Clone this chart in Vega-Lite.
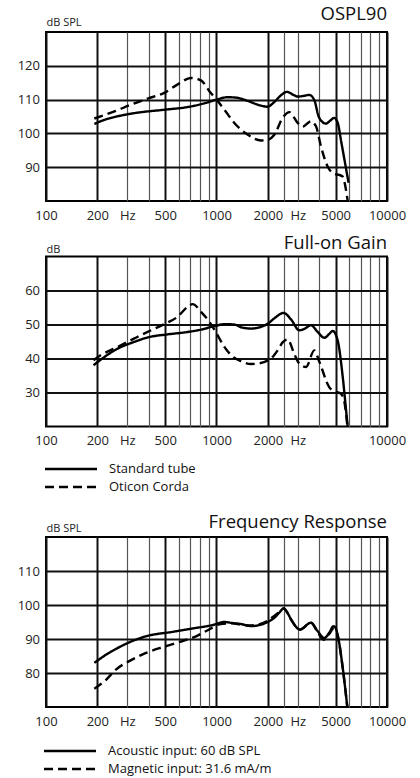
{
  "$schema": "https://vega.github.io/schema/vega-lite/v6.json",
  "background": "white",
  "padding": {"left": 16, "top": 4, "right": 5, "bottom": 5},
  "datasets": {
    "curves": [
      {"p": "ospl", "s": "Standard tube", "f": 192, "v": 102.8},
      {"p": "ospl", "s": "Standard tube", "f": 220, "v": 104.0},
      {"p": "ospl", "s": "Standard tube", "f": 260, "v": 105.0},
      {"p": "ospl", "s": "Standard tube", "f": 330, "v": 106.0},
      {"p": "ospl", "s": "Standard tube", "f": 494, "v": 107.0},
      {"p": "ospl", "s": "Standard tube", "f": 677, "v": 107.8},
      {"p": "ospl", "s": "Standard tube", "f": 850, "v": 108.9},
      {"p": "ospl", "s": "Standard tube", "f": 1000, "v": 110.0},
      {"p": "ospl", "s": "Standard tube", "f": 1163, "v": 110.7},
      {"p": "ospl", "s": "Standard tube", "f": 1300, "v": 110.6},
      {"p": "ospl", "s": "Standard tube", "f": 1527, "v": 109.6},
      {"p": "ospl", "s": "Standard tube", "f": 1800, "v": 108.3},
      {"p": "ospl", "s": "Standard tube", "f": 1990, "v": 107.9},
      {"p": "ospl", "s": "Standard tube", "f": 2184, "v": 109.3},
      {"p": "ospl", "s": "Standard tube", "f": 2380, "v": 111.2},
      {"p": "ospl", "s": "Standard tube", "f": 2590, "v": 112.3},
      {"p": "ospl", "s": "Standard tube", "f": 2800, "v": 111.5},
      {"p": "ospl", "s": "Standard tube", "f": 3000, "v": 110.9},
      {"p": "ospl", "s": "Standard tube", "f": 3250, "v": 111.1},
      {"p": "ospl", "s": "Standard tube", "f": 3500, "v": 111.4},
      {"p": "ospl", "s": "Standard tube", "f": 3750, "v": 109.8},
      {"p": "ospl", "s": "Standard tube", "f": 3960, "v": 105.2},
      {"p": "ospl", "s": "Standard tube", "f": 4200, "v": 103.3},
      {"p": "ospl", "s": "Standard tube", "f": 4386, "v": 102.9},
      {"p": "ospl", "s": "Standard tube", "f": 4650, "v": 103.8},
      {"p": "ospl", "s": "Standard tube", "f": 4900, "v": 104.6},
      {"p": "ospl", "s": "Standard tube", "f": 5140, "v": 103.1},
      {"p": "ospl", "s": "Standard tube", "f": 5400, "v": 97.3},
      {"p": "ospl", "s": "Standard tube", "f": 5700, "v": 90.7},
      {"p": "ospl", "s": "Standard tube", "f": 5950, "v": 85.4},

      {"p": "ospl", "s": "Oticon Corda", "f": 192, "v": 104.4},
      {"p": "ospl", "s": "Oticon Corda", "f": 252, "v": 106.5},
      {"p": "ospl", "s": "Oticon Corda", "f": 315, "v": 108.5},
      {"p": "ospl", "s": "Oticon Corda", "f": 395, "v": 110.3},
      {"p": "ospl", "s": "Oticon Corda", "f": 494, "v": 112.0},
      {"p": "ospl", "s": "Oticon Corda", "f": 592, "v": 114.5},
      {"p": "ospl", "s": "Oticon Corda", "f": 708, "v": 116.4},
      {"p": "ospl", "s": "Oticon Corda", "f": 811, "v": 115.7},
      {"p": "ospl", "s": "Oticon Corda", "f": 908, "v": 112.5},
      {"p": "ospl", "s": "Oticon Corda", "f": 1000, "v": 110.0},
      {"p": "ospl", "s": "Oticon Corda", "f": 1112, "v": 107.0},
      {"p": "ospl", "s": "Oticon Corda", "f": 1272, "v": 103.1},
      {"p": "ospl", "s": "Oticon Corda", "f": 1527, "v": 99.6},
      {"p": "ospl", "s": "Oticon Corda", "f": 1824, "v": 97.9},
      {"p": "ospl", "s": "Oticon Corda", "f": 1995, "v": 98.1},
      {"p": "ospl", "s": "Oticon Corda", "f": 2184, "v": 99.6},
      {"p": "ospl", "s": "Oticon Corda", "f": 2443, "v": 104.6},
      {"p": "ospl", "s": "Oticon Corda", "f": 2675, "v": 106.3},
      {"p": "ospl", "s": "Oticon Corda", "f": 2993, "v": 103.1},
      {"p": "ospl", "s": "Oticon Corda", "f": 3200, "v": 102.0},
      {"p": "ospl", "s": "Oticon Corda", "f": 3582, "v": 103.6},
      {"p": "ospl", "s": "Oticon Corda", "f": 3834, "v": 102.1},
      {"p": "ospl", "s": "Oticon Corda", "f": 4102, "v": 96.1},
      {"p": "ospl", "s": "Oticon Corda", "f": 4487, "v": 90.2},
      {"p": "ospl", "s": "Oticon Corda", "f": 4912, "v": 88.0},
      {"p": "ospl", "s": "Oticon Corda", "f": 5252, "v": 87.7},
      {"p": "ospl", "s": "Oticon Corda", "f": 5500, "v": 87.2},
      {"p": "ospl", "s": "Oticon Corda", "f": 5700, "v": 84.3},
      {"p": "ospl", "s": "Oticon Corda", "f": 5880, "v": 80.0},

      {"p": "gain", "s": "Standard tube", "f": 190, "v": 38.0},
      {"p": "gain", "s": "Standard tube", "f": 210, "v": 39.7},
      {"p": "gain", "s": "Standard tube", "f": 263, "v": 42.9},
      {"p": "gain", "s": "Standard tube", "f": 330, "v": 44.9},
      {"p": "gain", "s": "Standard tube", "f": 395, "v": 46.2},
      {"p": "gain", "s": "Standard tube", "f": 517, "v": 47.1},
      {"p": "gain", "s": "Standard tube", "f": 677, "v": 47.8},
      {"p": "gain", "s": "Standard tube", "f": 811, "v": 48.5},
      {"p": "gain", "s": "Standard tube", "f": 971, "v": 49.5},
      {"p": "gain", "s": "Standard tube", "f": 1112, "v": 50.1},
      {"p": "gain", "s": "Standard tube", "f": 1272, "v": 50.0},
      {"p": "gain", "s": "Standard tube", "f": 1392, "v": 49.2},
      {"p": "gain", "s": "Standard tube", "f": 1594, "v": 48.8},
      {"p": "gain", "s": "Standard tube", "f": 1995, "v": 50.2},
      {"p": "gain", "s": "Standard tube", "f": 2180, "v": 51.8},
      {"p": "gain", "s": "Standard tube", "f": 2478, "v": 53.4},
      {"p": "gain", "s": "Standard tube", "f": 2735, "v": 51.5},
      {"p": "gain", "s": "Standard tube", "f": 3060, "v": 48.3},
      {"p": "gain", "s": "Standard tube", "f": 3300, "v": 48.8},
      {"p": "gain", "s": "Standard tube", "f": 3583, "v": 49.8},
      {"p": "gain", "s": "Standard tube", "f": 3920, "v": 47.8},
      {"p": "gain", "s": "Standard tube", "f": 4290, "v": 46.1},
      {"p": "gain", "s": "Standard tube", "f": 4580, "v": 47.2},
      {"p": "gain", "s": "Standard tube", "f": 4801, "v": 48.1},
      {"p": "gain", "s": "Standard tube", "f": 5132, "v": 45.4},
      {"p": "gain", "s": "Standard tube", "f": 5500, "v": 34.6},
      {"p": "gain", "s": "Standard tube", "f": 5748, "v": 25.0},
      {"p": "gain", "s": "Standard tube", "f": 5880, "v": 20.0},

      {"p": "gain", "s": "Oticon Corda", "f": 190, "v": 39.5},
      {"p": "gain", "s": "Oticon Corda", "f": 210, "v": 41.0},
      {"p": "gain", "s": "Oticon Corda", "f": 263, "v": 43.4},
      {"p": "gain", "s": "Oticon Corda", "f": 330, "v": 45.9},
      {"p": "gain", "s": "Oticon Corda", "f": 413, "v": 48.3},
      {"p": "gain", "s": "Oticon Corda", "f": 494, "v": 50.1},
      {"p": "gain", "s": "Oticon Corda", "f": 592, "v": 52.3},
      {"p": "gain", "s": "Oticon Corda", "f": 677, "v": 55.2},
      {"p": "gain", "s": "Oticon Corda", "f": 725, "v": 56.0},
      {"p": "gain", "s": "Oticon Corda", "f": 811, "v": 53.7},
      {"p": "gain", "s": "Oticon Corda", "f": 908, "v": 50.8},
      {"p": "gain", "s": "Oticon Corda", "f": 1000, "v": 47.4},
      {"p": "gain", "s": "Oticon Corda", "f": 1112, "v": 43.4},
      {"p": "gain", "s": "Oticon Corda", "f": 1272, "v": 40.2},
      {"p": "gain", "s": "Oticon Corda", "f": 1392, "v": 39.2},
      {"p": "gain", "s": "Oticon Corda", "f": 1594, "v": 38.4},
      {"p": "gain", "s": "Oticon Corda", "f": 1738, "v": 38.5},
      {"p": "gain", "s": "Oticon Corda", "f": 2085, "v": 40.0},
      {"p": "gain", "s": "Oticon Corda", "f": 2284, "v": 42.4},
      {"p": "gain", "s": "Oticon Corda", "f": 2450, "v": 44.8},
      {"p": "gain", "s": "Oticon Corda", "f": 2617, "v": 45.6},
      {"p": "gain", "s": "Oticon Corda", "f": 2850, "v": 41.5},
      {"p": "gain", "s": "Oticon Corda", "f": 3060, "v": 38.5},
      {"p": "gain", "s": "Oticon Corda", "f": 3350, "v": 37.5},
      {"p": "gain", "s": "Oticon Corda", "f": 3747, "v": 42.4},
      {"p": "gain", "s": "Oticon Corda", "f": 4013, "v": 39.0},
      {"p": "gain", "s": "Oticon Corda", "f": 4580, "v": 31.6},
      {"p": "gain", "s": "Oticon Corda", "f": 5000, "v": 30.2},
      {"p": "gain", "s": "Oticon Corda", "f": 5350, "v": 29.7},
      {"p": "gain", "s": "Oticon Corda", "f": 5600, "v": 27.7},
      {"p": "gain", "s": "Oticon Corda", "f": 5860, "v": 20.0},

      {"p": "resp", "s": "Acoustic input: 60 dB SPL", "f": 192, "v": 83.0},
      {"p": "resp", "s": "Acoustic input: 60 dB SPL", "f": 205, "v": 84.0},
      {"p": "resp", "s": "Acoustic input: 60 dB SPL", "f": 225, "v": 85.4},
      {"p": "resp", "s": "Acoustic input: 60 dB SPL", "f": 260, "v": 87.2},
      {"p": "resp", "s": "Acoustic input: 60 dB SPL", "f": 295, "v": 88.6},
      {"p": "resp", "s": "Acoustic input: 60 dB SPL", "f": 386, "v": 90.8},
      {"p": "resp", "s": "Acoustic input: 60 dB SPL", "f": 553, "v": 92.1},
      {"p": "resp", "s": "Acoustic input: 60 dB SPL", "f": 724, "v": 93.1},
      {"p": "resp", "s": "Acoustic input: 60 dB SPL", "f": 948, "v": 94.1},
      {"p": "resp", "s": "Acoustic input: 60 dB SPL", "f": 1110, "v": 95.0},
      {"p": "resp", "s": "Acoustic input: 60 dB SPL", "f": 1240, "v": 94.7},
      {"p": "resp", "s": "Acoustic input: 60 dB SPL", "f": 1392, "v": 94.4},
      {"p": "resp", "s": "Acoustic input: 60 dB SPL", "f": 1594, "v": 93.8},
      {"p": "resp", "s": "Acoustic input: 60 dB SPL", "f": 1995, "v": 95.0},
      {"p": "resp", "s": "Acoustic input: 60 dB SPL", "f": 2180, "v": 96.2},
      {"p": "resp", "s": "Acoustic input: 60 dB SPL", "f": 2340, "v": 97.8},
      {"p": "resp", "s": "Acoustic input: 60 dB SPL", "f": 2478, "v": 99.0},
      {"p": "resp", "s": "Acoustic input: 60 dB SPL", "f": 2600, "v": 97.8},
      {"p": "resp", "s": "Acoustic input: 60 dB SPL", "f": 2735, "v": 95.8},
      {"p": "resp", "s": "Acoustic input: 60 dB SPL", "f": 3089, "v": 92.8},
      {"p": "resp", "s": "Acoustic input: 60 dB SPL", "f": 3582, "v": 94.8},
      {"p": "resp", "s": "Acoustic input: 60 dB SPL", "f": 3920, "v": 92.3},
      {"p": "resp", "s": "Acoustic input: 60 dB SPL", "f": 4288, "v": 90.3},
      {"p": "resp", "s": "Acoustic input: 60 dB SPL", "f": 4580, "v": 91.8},
      {"p": "resp", "s": "Acoustic input: 60 dB SPL", "f": 4853, "v": 93.8},
      {"p": "resp", "s": "Acoustic input: 60 dB SPL", "f": 5000, "v": 93.2},
      {"p": "resp", "s": "Acoustic input: 60 dB SPL", "f": 5132, "v": 91.3},
      {"p": "resp", "s": "Acoustic input: 60 dB SPL", "f": 5500, "v": 81.5},
      {"p": "resp", "s": "Acoustic input: 60 dB SPL", "f": 5850, "v": 70.0},

      {"p": "resp", "s": "Magnetic input: 31.6 mA/m", "f": 192, "v": 75.4},
      {"p": "resp", "s": "Magnetic input: 31.6 mA/m", "f": 225, "v": 78.0},
      {"p": "resp", "s": "Magnetic input: 31.6 mA/m", "f": 257, "v": 81.0},
      {"p": "resp", "s": "Magnetic input: 31.6 mA/m", "f": 308, "v": 83.5},
      {"p": "resp", "s": "Magnetic input: 31.6 mA/m", "f": 386, "v": 85.9},
      {"p": "resp", "s": "Magnetic input: 31.6 mA/m", "f": 483, "v": 87.6},
      {"p": "resp", "s": "Magnetic input: 31.6 mA/m", "f": 605, "v": 89.1},
      {"p": "resp", "s": "Magnetic input: 31.6 mA/m", "f": 758, "v": 90.8},
      {"p": "resp", "s": "Magnetic input: 31.6 mA/m", "f": 905, "v": 92.8},
      {"p": "resp", "s": "Magnetic input: 31.6 mA/m", "f": 1039, "v": 94.3},
      {"p": "resp", "s": "Magnetic input: 31.6 mA/m", "f": 1240, "v": 94.6},
      {"p": "resp", "s": "Magnetic input: 31.6 mA/m", "f": 1392, "v": 94.2},
      {"p": "resp", "s": "Magnetic input: 31.6 mA/m", "f": 1594, "v": 94.0},
      {"p": "resp", "s": "Magnetic input: 31.6 mA/m", "f": 1995, "v": 95.4},
      {"p": "resp", "s": "Magnetic input: 31.6 mA/m", "f": 2180, "v": 96.8},
      {"p": "resp", "s": "Magnetic input: 31.6 mA/m", "f": 2340, "v": 98.0},
      {"p": "resp", "s": "Magnetic input: 31.6 mA/m", "f": 2478, "v": 99.0},
      {"p": "resp", "s": "Magnetic input: 31.6 mA/m", "f": 2600, "v": 97.8},
      {"p": "resp", "s": "Magnetic input: 31.6 mA/m", "f": 2735, "v": 95.8},
      {"p": "resp", "s": "Magnetic input: 31.6 mA/m", "f": 3089, "v": 92.8},
      {"p": "resp", "s": "Magnetic input: 31.6 mA/m", "f": 3582, "v": 94.8},
      {"p": "resp", "s": "Magnetic input: 31.6 mA/m", "f": 3920, "v": 92.0},
      {"p": "resp", "s": "Magnetic input: 31.6 mA/m", "f": 4250, "v": 89.8},
      {"p": "resp", "s": "Magnetic input: 31.6 mA/m", "f": 4580, "v": 91.5},
      {"p": "resp", "s": "Magnetic input: 31.6 mA/m", "f": 4853, "v": 93.0},
      {"p": "resp", "s": "Magnetic input: 31.6 mA/m", "f": 5000, "v": 92.5},
      {"p": "resp", "s": "Magnetic input: 31.6 mA/m", "f": 5132, "v": 91.0},
      {"p": "resp", "s": "Magnetic input: 31.6 mA/m", "f": 5500, "v": 81.5},
      {"p": "resp", "s": "Magnetic input: 31.6 mA/m", "f": 5850, "v": 70.0}
    ]
  },
  "vconcat": [
    {
      "width": 341,
      "height": 169,
      "title": {"text": "OSPL90", "anchor": "end", "frame": "group", "offset": -7.5},
      "data": {"name": "curves"},
      "transform": [{"filter": "datum.p == 'ospl'"}],
      "mark": {"type": "line", "interpolate": "monotone", "strokeWidth": 2.4, "color": "black", "clip": true},
      "encoding": {
        "x": {
          "field": "f", "type": "quantitative",
          "scale": {"type": "log", "domain": [100, 10000], "nice": false},
          "axis": {
            "title": null,
            "values": [100, 200, 300, 400, 500, 600, 700, 800, 900, 1000, 2000, 2500, 3000, 4000, 5000, 6000, 7000, 8000, 9000, 10000],
            "labelExpr": "datum.value == 300 || datum.value == 3000 ? 'Hz' : indexof([100, 200, 500, 1000, 2000, 5000, 10000], datum.value) >= 0 ? '' + datum.value : ''"
          }
        },
        "y": {
          "field": "v", "type": "quantitative",
          "scale": {"domain": [80, 130], "nice": false, "zero": false},
          "axis": {"values": [90, 100, 110, 120], "title": "dB SPL", "titleY": -6.7}
        },
        "strokeDash": {
          "field": "s", "type": "nominal",
          "scale": {"domain": ["Standard tube", "Oticon Corda"], "range": [[1, 0], [9, 5]]},
          "legend": null
        }
      }
    },
    {
      "width": 341,
      "height": 170,
      "title": {"text": "Full-on Gain", "anchor": "end", "frame": "group", "offset": -9},
      "data": {"name": "curves"},
      "transform": [{"filter": "datum.p == 'gain'"}],
      "mark": {"type": "line", "interpolate": "monotone", "strokeWidth": 2.4, "color": "black", "clip": true},
      "encoding": {
        "x": {
          "field": "f", "type": "quantitative",
          "scale": {"type": "log", "domain": [100, 10000], "nice": false},
          "axis": {
            "title": null,
            "values": [100, 200, 300, 400, 500, 600, 700, 800, 900, 1000, 2000, 2500, 3000, 4000, 5000, 6000, 7000, 8000, 9000, 10000],
            "labelExpr": "datum.value == 300 || datum.value == 3000 ? 'Hz' : indexof([100, 200, 500, 1000, 2000, 10000], datum.value) >= 0 ? '' + datum.value : ''"
          }
        },
        "y": {
          "field": "v", "type": "quantitative",
          "scale": {"domain": [20, 70], "nice": false, "zero": false},
          "axis": {"values": [30, 40, 50, 60], "title": "dB", "titleY": -4.3}
        },
        "strokeDash": {
          "field": "s", "type": "nominal",
          "scale": {"domain": ["Standard tube", "Oticon Corda"], "range": [[1, 0], [9, 5]]},
          "legend": {"orient": "none", "legendX": -6.5, "legendY": 200.5, "padding": 5.5}
        }
      }
    },
    {
      "width": 341,
      "height": 170,
      "title": {"text": "Frequency Response", "anchor": "end", "frame": "group", "offset": -9},
      "data": {"name": "curves"},
      "transform": [{"filter": "datum.p == 'resp'"}],
      "mark": {"type": "line", "interpolate": "monotone", "strokeWidth": 2.4, "color": "black", "clip": true},
      "encoding": {
        "x": {
          "field": "f", "type": "quantitative",
          "scale": {"type": "log", "domain": [100, 10000], "nice": false},
          "axis": {
            "title": null,
            "values": [100, 200, 300, 400, 500, 600, 700, 800, 900, 1000, 2000, 2500, 3000, 4000, 5000, 6000, 7000, 8000, 9000, 10000],
            "labelExpr": "datum.value == 300 || datum.value == 3000 ? 'Hz' : indexof([100, 200, 500, 1000, 2000, 5000, 10000], datum.value) >= 0 ? '' + datum.value : ''"
          }
        },
        "y": {
          "field": "v", "type": "quantitative",
          "scale": {"domain": [70, 120], "nice": false, "zero": false},
          "axis": {"values": [80, 90, 100, 110], "title": "dB SPL", "titleY": -6}
        },
        "strokeDash": {
          "field": "s", "type": "nominal",
          "scale": {"domain": ["Acoustic input: 60 dB SPL", "Magnetic input: 31.6 mA/m"], "range": [[1, 0], [9, 5]]},
          "legend": {"orient": "none", "legendX": -2, "legendY": 207.5}
        }
      }
    }
  ],
  "spacing": 9.5,
  "resolve": {"scale": {"strokeDash": "independent"}, "legend": {"strokeDash": "independent"}},
  "config": {
    "font": "Open Sans",
    "view": {"stroke": "black", "strokeWidth": 2},
    "title": {"font": "Open Sans", "fontSize": 18.5, "fontWeight": "normal", "color": "#111", "baseline": "alphabetic"},
    "axis": {
      "domain": false,
      "ticks": false,
      "labelFont": "Open Sans",
      "labelFontSize": 13,
      "labelColor": "#222",
      "labelOverlap": false,
      "labelFlush": false,
      "labelBound": false,
      "titleFont": "Open Sans",
      "titleFontSize": 11,
      "titleFontWeight": "normal",
      "titleColor": "#222",
      "titleAngle": 0,
      "titleAlign": "left",
      "titleBaseline": "alphabetic",
      "titleX": 0,
      "gridColor": "black",
      "gridOpacity": 1
    },
    "axisX": {
      "labelPadding": 8,
      "gridWidth": {"condition": {"test": "indexof([100, 200, 500, 1000, 2000, 5000, 10000], datum.value) >= 0", "value": 2}, "value": 1.2},
      "gridColor": {"condition": {"test": "indexof([100, 200, 500, 1000, 2000, 5000, 10000], datum.value) >= 0", "value": "#111"}, "value": "#555"}
    },
    "axisY": {
      "labelPadding": 6.5,
      "labelBaseline": "middle",
      "gridWidth": 2,
      "gridColor": "#111"
    },
    "legend": {
      "title": null,
      "padding": 0,
      "symbolType": "M-5.2,0H5.2",
      "symbolSize": 100,
      "symbolStrokeWidth": 2.5,
      "symbolStrokeColor": "black",
      "symbolOffset": 19.5,
      "labelOffset": 31.5,
      "labelFont": "Open Sans",
      "labelFontSize": 13,
      "labelColor": "#111",
      "labelLimit": 0,
      "rowPadding": 4,
      "direction": "vertical"
    }
  }
}
